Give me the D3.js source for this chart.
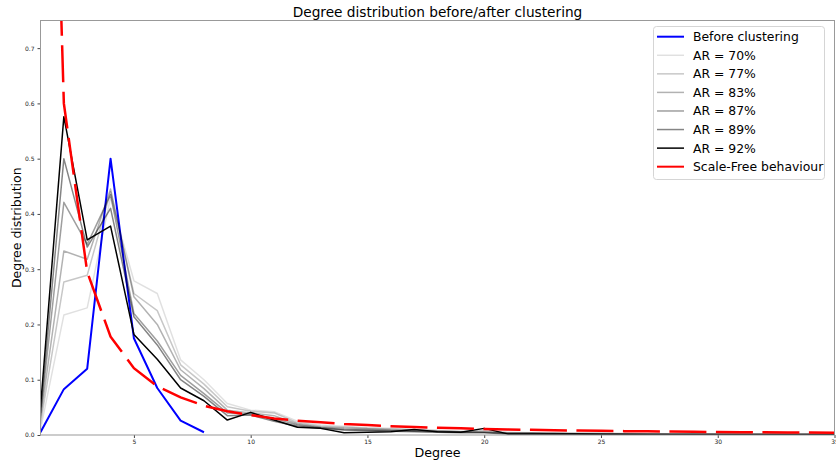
<!DOCTYPE html>
<html lang="en">
<head>
<meta charset="utf-8">
<title>Degree distribution</title>
<script src="https://d3js.org/d3.v7.min.js"></script>
<style>
  body { margin: 0; background: #fff; }
  text { font-family: "DejaVu Sans", sans-serif; }
</style>
</head>
<body>
<div id="chart"></div>
<script>

// ---- data ----
var degrees = d3.range(1, 36)
var beforeDegrees = [1, 2, 3, 4, 5, 6, 7, 8]
var beforeValues = [0.005, 0.083, 0.12, 0.50, 0.175, 0.085, 0.026, 0.005]

var arLabels = ["AR = 70%", "AR = 77%", "AR = 83%", "AR = 87%", "AR = 89%", "AR = 92%"]
var ar70 = [0.010, 0.217, 0.230, 0.430, 0.279, 0.256, 0.136, 0.100, 0.057, 0.045, 0.042, 0.025, 0.018, 0.016, 0.013, 0.012, 0.010, 0.008, 0.007, 0.006, 0.005, 0.004, 0.004, 0.003, 0.003, 0.003, 0.002, 0.002, 0.002, 0.002, 0.001, 0.001, 0.001, 0.001, 0.001]
var ar77 = [0.020, 0.277, 0.289, 0.440, 0.256, 0.225, 0.127, 0.092, 0.051, 0.043, 0.040, 0.022, 0.016, 0.014, 0.012, 0.011, 0.009, 0.008, 0.006, 0.008, 0.004, 0.004, 0.003, 0.003, 0.003, 0.002, 0.002, 0.002, 0.002, 0.001, 0.001, 0.001, 0.001, 0.001, 0.001]
var ar83 = [0.030, 0.333, 0.318, 0.445, 0.250, 0.200, 0.118, 0.084, 0.045, 0.040, 0.035, 0.020, 0.014, 0.012, 0.011, 0.009, 0.008, 0.007, 0.006, 0.005, 0.003, 0.003, 0.003, 0.002, 0.002, 0.002, 0.002, 0.001, 0.001, 0.001, 0.001, 0.001, 0.001, 0.001, 0.001]
var ar87 = [0.035, 0.421, 0.345, 0.435, 0.220, 0.170, 0.108, 0.075, 0.040, 0.038, 0.030, 0.018, 0.013, 0.010, 0.009, 0.008, 0.007, 0.006, 0.005, 0.005, 0.003, 0.003, 0.002, 0.002, 0.002, 0.002, 0.001, 0.001, 0.001, 0.001, 0.001, 0.001, 0.001, 0.001, 0.001]
var ar89 = [0.040, 0.500, 0.340, 0.410, 0.214, 0.163, 0.100, 0.070, 0.035, 0.036, 0.025, 0.016, 0.012, 0.009, 0.008, 0.007, 0.006, 0.005, 0.004, 0.004, 0.002, 0.002, 0.002, 0.002, 0.002, 0.001, 0.001, 0.001, 0.001, 0.001, 0.001, 0.001, 0.001, 0.001, 0.001]
var ar92 = [0.050, 0.576, 0.353, 0.378, 0.182, 0.137, 0.085, 0.062, 0.027, 0.041, 0.027, 0.014, 0.012, 0.004, 0.005, 0.006, 0.010, 0.006, 0.005, 0.012, 0.002, 0.002, 0.002, 0.002, 0.001, 0.001, 0.001, 0.001, 0.001, 0.001, 0.001, 0.001, 0.001, 0.001, 0.001]
var arSeries = [ar70, ar77, ar83, ar87, ar89, ar92]
var arOpacity = [0.12, 0.22, 0.3, 0.38, 0.48, 1]

var scaleFree = [2.02, 0.600, 0.295, 0.178, 0.121, 0.088, 0.068, 0.053, 0.043, 0.036, 0.030, 0.026, 0.023, 0.020, 0.018, 0.016, 0.0145, 0.013, 0.012, 0.011, 0.010, 0.0093, 0.0086, 0.008, 0.0075, 0.007, 0.0066, 0.0062, 0.0058, 0.0055, 0.0052, 0.0049, 0.0047, 0.0044, 0.0042]

var xTicks = [5, 10, 15, 20, 25, 30, 35]
var yTicks = [0, 0.1, 0.2, 0.3, 0.4, 0.5, 0.6, 0.7]

// ---- layout ----
var W = 836, H = 460
var margin = {top: 20.5, right: 1.5, bottom: 25, left: 40.5},
    width = W - margin.left - margin.right,
    height = H - margin.top - margin.bottom

var svg = d3.select("#chart")
  .append("svg")
    .attr("width", W)
    .attr("height", H)

var g = svg.append("g")
    .attr("transform", "translate(" + margin.left + "," + margin.top + ")")

var x = d3.scaleLinear().domain([1, 35]).range([0, width])
var y = d3.scaleLinear().domain([0, 0.75]).range([height, 0])

// clip
svg.append("defs").append("clipPath").attr("id", "plotclip")
  .append("rect").attr("width", width).attr("height", height)

// axes
var xAxis = g.append("g")
    .attr("transform", "translate(0," + height + ")")
    .call(d3.axisBottom(x).tickValues(xTicks).tickSize(3).tickPadding(2).tickFormat(d3.format("d")))
var yAxis = g.append("g")
    .call(d3.axisLeft(y).tickValues(yTicks).tickSize(3).tickPadding(3).tickFormat(d3.format(".1f")))

g.selectAll(".domain").remove()
g.selectAll(".tick line").attr("stroke", "#444")
g.selectAll(".tick text").attr("fill", "#222").style("font-size", "6px")

// lines
var line = d3.line()
  .x(function(d) { return x(d[0]) })
  .y(function(d) { return y(d[1]) })

var plot = g.append("g").attr("clip-path", "url(#plotclip)")

plot.append("path")
  .datum(beforeDegrees.map(function(d, i) { return [d, beforeValues[i]] }))
  .attr("d", line)
  .attr("fill", "none")
  .attr("stroke", "#0000ff")
  .attr("stroke-width", 2)
  .attr("stroke-linejoin", "round")

arSeries.forEach(function(s, k) {
  plot.append("path")
    .datum(degrees.map(function(d, i) { return [d, s[i]] }))
    .attr("d", line)
    .attr("fill", "none")
    .attr("stroke", "#000")
    .attr("stroke-opacity", arOpacity[k])
    .attr("stroke-width", 1.5)
    .attr("stroke-linejoin", "round")
})

plot.append("path")
  .datum(degrees.map(function(d, i) { return [d, scaleFree[i]] }))
  .attr("d", line)
  .attr("fill", "none")
  .attr("stroke", "#ff0000")
  .attr("stroke-width", 2.5)
  .attr("stroke-dasharray", "37,9.5")
  .attr("stroke-dashoffset", 17)

// frame
g.append("rect")
  .attr("width", width)
  .attr("height", height)
  .attr("fill", "none")
  .attr("stroke", "#999")
  .attr("stroke-width", 1)

// titles
svg.append("text")
  .attr("x", margin.left + width / 2)
  .attr("y", 17)
  .attr("text-anchor", "middle")
  .style("font-size", "13.7px")
  .text("Degree distribution before/after clustering")

svg.append("text")
  .attr("x", margin.left + width / 2)
  .attr("y", 457)
  .attr("text-anchor", "middle")
  .style("font-size", "12.7px")
  .text("Degree")

svg.append("text")
  .attr("transform", "translate(21," + (margin.top + height / 2) + ") rotate(-90)")
  .attr("text-anchor", "middle")
  .style("font-size", "12.5px")
  .text("Degree distribution")

// legend
var legendItems = [{label: "Before clustering", color: "#0000ff", opacity: 1, width: 2}]
arLabels.forEach(function(l, k) {
  legendItems.push({label: l, color: "#000", opacity: arOpacity[k], width: 1.5})
})
legendItems.push({label: "Scale-Free behaviour", color: "#ff0000", opacity: 1, width: 2})

var legend = svg.append("g")
legend.append("rect")
  .attr("x", 653.5)
  .attr("y", 26.5)
  .attr("width", 171)
  .attr("height", 153)
  .attr("rx", 3)
  .attr("fill", "#fff")
  .attr("fill-opacity", 0.8)
  .attr("stroke", "#d5d5d5")

var rowY = function(i) { return 36.7 + i * 18.57 }

legend.selectAll("line.key")
  .data(legendItems)
  .enter()
  .append("line")
    .attr("x1", 657)
    .attr("x2", 684)
    .attr("y1", function(d, i) { return rowY(i) })
    .attr("y2", function(d, i) { return rowY(i) })
    .attr("stroke", function(d) { return d.color })
    .attr("stroke-opacity", function(d) { return d.opacity })
    .attr("stroke-width", function(d) { return d.width })

legend.selectAll("text.key")
  .data(legendItems)
  .enter()
  .append("text")
    .attr("x", 693)
    .attr("y", function(d, i) { return rowY(i) })
    .attr("dy", "0.36em")
    .style("font-size", "12.4px")
    .text(function(d) { return d.label })

</script>
</body>
</html>
